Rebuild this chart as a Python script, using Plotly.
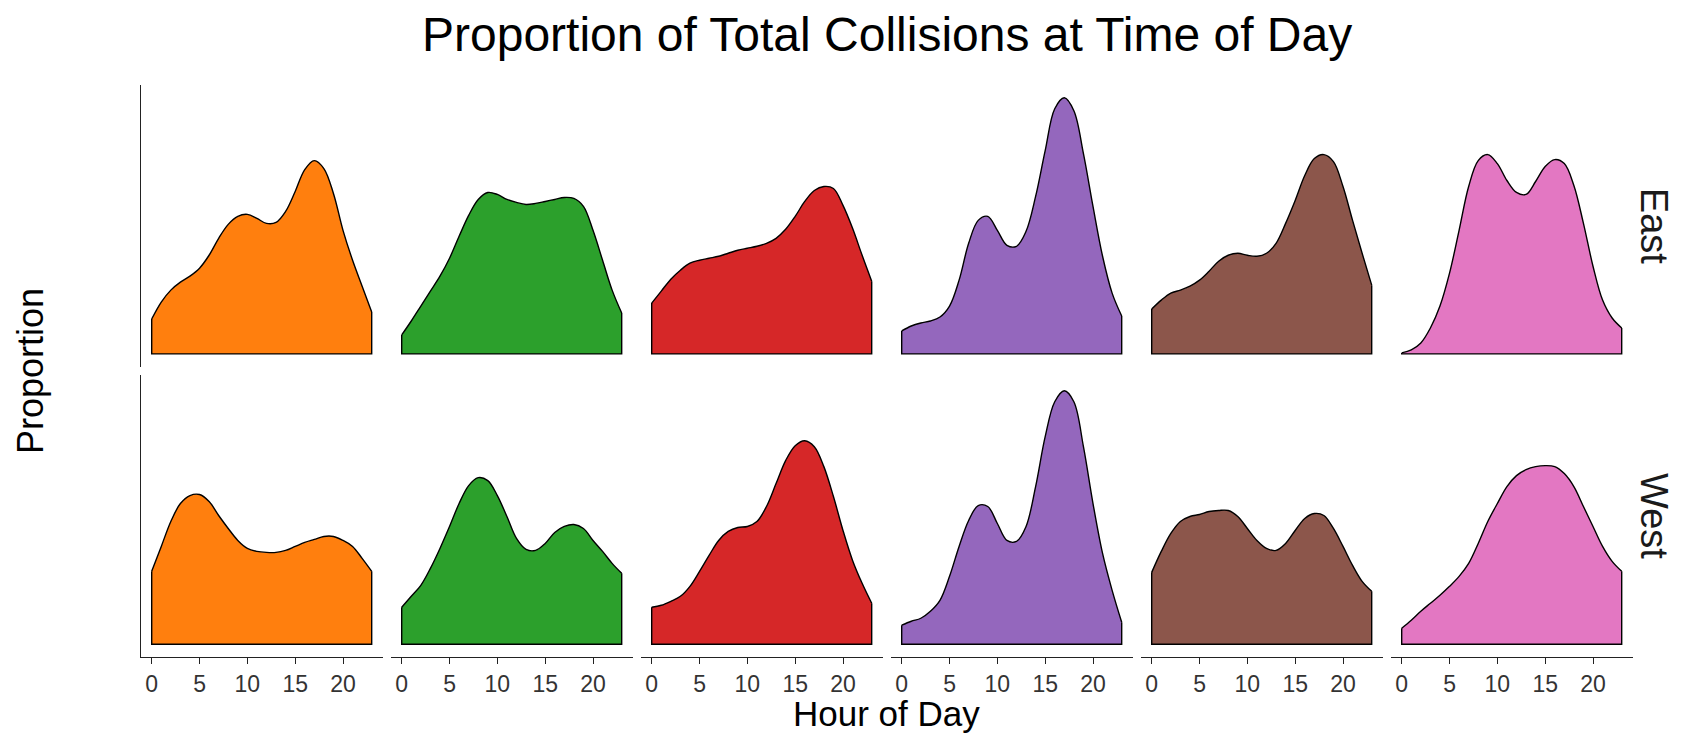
import plotly.graph_objects as go

hours = list(range(24))
regions = ["East", "West"]
tick_vals = [0, 5, 10, 15, 20]
colors = ["#FF7F0E", "#2CA02C", "#D62728", "#9467BD", "#8C564B", "#E377C2"]

# relative density (proportion, arbitrary units) by hour
east_orange = [35, 52, 64, 72, 78, 86, 99, 116, 130, 138, 140, 136, 131, 132, 143, 163, 185, 194, 186, 161, 124, 94, 68, 42]
east_green = [19, 33, 48, 63, 78, 96, 118, 139, 155, 162, 160, 155, 152, 150, 151, 153, 155, 157, 156, 148, 124, 94, 64, 41]
east_red = [51, 63, 75, 84, 91, 94, 96, 98, 101, 104, 106, 108, 111, 116, 125, 138, 153, 164, 168, 166, 149, 126, 99, 73]
east_purple = [23, 28, 31, 33, 37, 48, 74, 111, 134, 138, 124, 109, 108, 123, 158, 204, 246, 257, 244, 201, 148, 98, 61, 38]
east_brown = [45, 54, 61, 64, 68, 74, 83, 93, 99, 101, 99, 98, 101, 111, 131, 154, 179, 196, 200, 193, 168, 134, 101, 69]
east_pink = [1, 4, 11, 26, 48, 81, 124, 168, 194, 200, 191, 174, 162, 160, 173, 188, 195, 191, 169, 131, 88, 54, 36, 26]

west_orange = [73, 98, 123, 141, 149, 150, 143, 129, 116, 104, 96, 93, 92, 92, 94, 98, 102, 105, 108, 108, 104, 98, 86, 73]
west_green = [37, 48, 59, 76, 96, 118, 141, 159, 167, 164, 149, 128, 106, 95, 94, 101, 112, 118, 120, 116, 104, 93, 81, 71]
west_red = [37, 39, 43, 48, 58, 73, 89, 104, 113, 117, 118, 123, 138, 161, 184, 199, 204, 198, 178, 148, 114, 84, 61, 41]
west_purple = [19, 23, 26, 33, 44, 68, 98, 124, 139, 138, 121, 104, 103, 118, 158, 208, 243, 254, 243, 198, 141, 91, 54, 22]
west_brown = [72, 93, 111, 123, 128, 130, 133, 134, 134, 128, 116, 104, 96, 94, 101, 114, 126, 131, 129, 116, 98, 79, 63, 53]
west_pink = [16, 24, 33, 41, 49, 58, 68, 81, 101, 123, 141, 158, 169, 175, 178, 179, 178, 171, 158, 138, 118, 98, 83, 73]

rows = [
    [east_orange, east_green, east_red, east_purple, east_brown, east_pink],
    [west_orange, west_green, west_red, west_purple, west_brown, west_pink],
]

W, H = 1690, 733
FONT = "Liberation Sans"
AX = "#222222"

all_vals = [v for row in rows for s in row for v in s]
ymax = max(all_vals)
yrange = [-0.05 * ymax, 1.05 * ymax]
xspan = hours[-1] - hours[0]
xrange = [hours[0] - 0.05 * xspan, hours[-1] + 0.05 * xspan]

col_left = [140.7 + 250 * k for k in range(6)]
col_w = 242
row_px = [(85, 366.7), (375, 657)]

fig = go.Figure()
layout = {}
for r, series_row in enumerate(rows):
    for c, vals in enumerate(series_row):
        idx = r * 6 + c + 1
        xa = "x" if idx == 1 else f"x{idx}"
        ya = "y" if idx == 1 else f"y{idx}"
        fig.add_trace(go.Scatter(
            x=hours, y=vals, mode="lines",
            line=dict(shape="spline", color="black", width=1.4),
            fill="tozeroy", fillcolor=colors[c],
            xaxis=xa, yaxis=ya, showlegend=False, hoverinfo="x+y"))
        fig.add_trace(go.Scatter(
            x=[hours[-1], hours[-1], hours[0], hours[0]],
            y=[vals[-1], 0, 0, vals[0]], mode="lines",
            line=dict(color="black", width=1.4),
            xaxis=xa, yaxis=ya, showlegend=False, hoverinfo="skip"))
        x0 = col_left[c] / W
        x1 = (col_left[c] + col_w) / W
        top, bot = row_px[r]
        bottom_row = (r == 1)
        layout[f"xaxis{'' if idx == 1 else idx}"] = dict(
            domain=[x0, x1], range=xrange, anchor=ya,
            showgrid=False, zeroline=False,
            showline=bottom_row, linecolor=AX, linewidth=1.3,
            ticks="outside" if bottom_row else "", ticklen=6, tickwidth=1.3, tickcolor=AX,
            tickvals=tick_vals, showticklabels=bottom_row,
            tickfont=dict(family=FONT, size=23, color="#333333"))
        layout[f"yaxis{'' if idx == 1 else idx}"] = dict(
            domain=[1 - bot / H, 1 - top / H], range=yrange, anchor=xa,
            showgrid=False, zeroline=False, showticklabels=False, ticks="",
            showline=(c == 0), linecolor=AX, linewidth=1.3)

fig.update_layout(**layout)

center_x = (col_left[0] + col_left[-1] + col_w) / 2 / W
annotations = [
    dict(text="Proportion of Total Collisions at Time of Day", x=center_x, y=1 - 35 / H,
         xref="paper", yref="paper", showarrow=False, xanchor="center", yanchor="middle",
         font=dict(family=FONT, size=48, color="black")),
    dict(text="Hour of Day", x=center_x, y=1 - 713 / H,
         xref="paper", yref="paper", showarrow=False, xanchor="center", yanchor="middle",
         font=dict(family=FONT, size=35, color="black")),
    dict(text="Proportion", x=30 / W, y=1 - 371 / H, textangle=-90,
         xref="paper", yref="paper", showarrow=False, xanchor="center", yanchor="middle",
         font=dict(family=FONT, size=36, color="black")),
]
for r, name in enumerate(regions):
    top, bot = row_px[r]
    annotations.append(dict(
        text=name, x=1654 / W, y=1 - (top + bot) / 2 / H, textangle=90,
        xref="paper", yref="paper", showarrow=False, xanchor="center", yanchor="middle",
        font=dict(family=FONT, size=38, color="#1a1a1a")))

fig.update_layout(
    width=W, height=H, autosize=False,
    margin=dict(l=0, r=0, t=0, b=0),
    plot_bgcolor="white", paper_bgcolor="white",
    annotations=annotations, showlegend=False)

fig.write_html("out.html", config={"displayModeBar": False},
               post_script="document.body.style.margin='0px';document.body.style.overflow='hidden';")
